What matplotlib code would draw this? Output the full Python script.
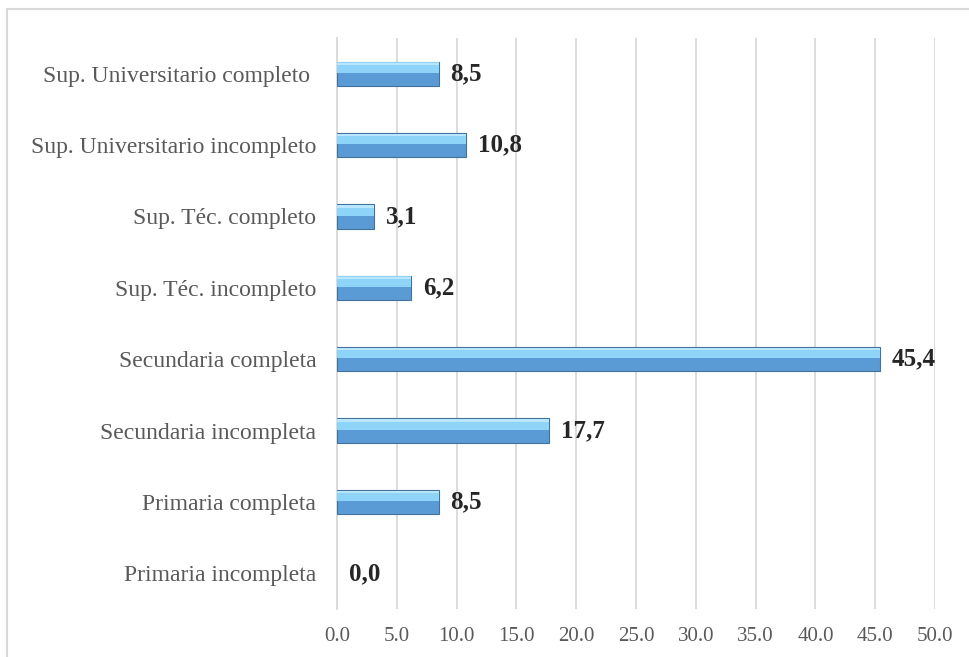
import matplotlib.pyplot as plt
from matplotlib.lines import Line2D
import numpy as np

plt.rcParams['font.family'] = ['Liberation Serif', 'DejaVu Serif']

categories = [
    'Primaria incompleta',
    'Primaria completa',
    'Secundaria incompleta',
    'Secundaria completa',
    'Sup. Téc. incompleto',
    'Sup. Téc. completo',
    'Sup. Universitario incompleto',
    'Sup. Universitario completo ',
]
values = [0.0, 8.5, 17.7, 45.4, 6.2, 3.1, 10.8, 8.5]
xticks = [0, 5, 10, 15, 20, 25, 30, 35, 40, 45, 50]

W, H = 969, 657
fig = plt.figure(figsize=(W / 100, H / 100), dpi=100)
ax = fig.add_axes([337 / W, 1 - 609 / H, (935 - 337) / W, (609 - 38) / H])

y = np.arange(len(categories))
h = 0.34

# bevelled bar look: darker lower half, lighter upper half, thin highlight
edge_w = [0.8 if v > 0 else 0 for v in values]
ax.barh(y, values, height=h, color='#5B9BD5', edgecolor='#41719C', linewidth=edge_w, zorder=3)
ax.barh(y + h / 4, values, height=h / 2 - 0.02, color='#8ED3F8', linewidth=0, zorder=4)
ax.barh(y + h / 2 - 0.03, values, height=0.03, color='#B8E6FC', linewidth=0, zorder=5)

for yi, v in zip(y, values):
    ax.text(v + 1.0, yi, f'{v:.1f}'.replace('.', ','), va='center', ha='left',
            fontsize=18, fontweight='bold', color='#262626')

ax.set_xlim(0, 50)
ax.set_ylim(-0.5, len(categories) - 0.5)
ax.set_xticks(xticks)
ax.set_xticklabels([f'{t:.1f}' for t in xticks], fontsize=15, color='#595959')
ax.set_yticks(y)
ax.set_yticklabels(categories, fontsize=17, color='#595959')
ax.tick_params(axis='y', length=0, pad=15)
ax.tick_params(axis='x', length=0, pad=13)
ax.xaxis.grid(True, color='#D9D9D9', linewidth=1.3, zorder=0)
for s in ['top', 'right', 'bottom']:
    ax.spines[s].set_visible(False)
ax.spines['left'].set_color('#D9D9D9')
ax.spines['left'].set_linewidth(1.3)

# outer frame of the chart area (top and left edges are visible)
fig.add_artist(Line2D([7 / W, 1], [1 - 9 / H, 1 - 9 / H], color='#D9D9D9', linewidth=1.5))
fig.add_artist(Line2D([7 / W, 7 / W], [0, 1 - 9 / H], color='#D9D9D9', linewidth=1.5))

fig.savefig('out.png', dpi=100)
